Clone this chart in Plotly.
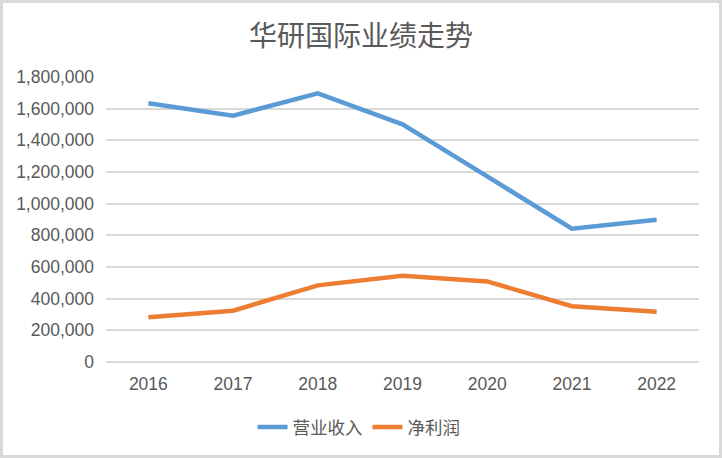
import plotly.graph_objects as go

years = ["2016", "2017", "2018", "2019", "2020", "2021", "2022"]
revenue = [1634000, 1556000, 1697000, 1501000, 1172000, 842000, 899000]
net_profit = [282000, 324000, 484000, 545000, 509000, 352000, 318000]
y_ticks = [0, 200000, 400000, 600000, 800000, 1000000, 1200000, 1400000, 1600000, 1800000]
y_tick_text = ["0", "200,000", "400,000", "600,000", "800,000", "1,000,000",
               "1,200,000", "1,400,000", "1,600,000", "1,800,000"]

W, H = 722, 458
L, R, T, B = 106, 23, 77, 96
pw, ph = W - L - R, H - T - B

fig = go.Figure()
fig.add_trace(go.Scatter(x=years, y=revenue, mode="lines", name="营业收入",
                         line=dict(color="#5B9BD5", width=4.5)))
fig.add_trace(go.Scatter(x=years, y=net_profit, mode="lines", name="净利润",
                         line=dict(color="#ED7D31", width=4.5)))

font_fam = "Liberation Sans, Arial, Noto Sans CJK SC, sans-serif"
cjk_fam = "Noto Sans CJK SC, sans-serif"

fig.update_layout(
    width=W, height=H,
    margin=dict(l=L, r=R, t=T, b=B),
    paper_bgcolor="white", plot_bgcolor="white",
    title=dict(text="华研国际业绩走势", x=0.5, xanchor="center", y=1 - 36 / H, yanchor="middle",
               font=dict(family=cjk_fam, size=28, color="#595959")),
    xaxis=dict(type="category", showgrid=False, showline=False, ticks="",
               range=[-0.5, 6.5], ticklabelstandoff=9,
               tickfont=dict(family=font_fam, size=17.5, color="#595959")),
    yaxis=dict(range=[0, 1800000], tickvals=y_ticks, ticktext=y_tick_text,
               showgrid=True, gridcolor="#d9d9d9", gridwidth=1.5,
               zeroline=True, zerolinecolor="#d9d9d9", zerolinewidth=1.5,
               showline=False, ticks="", ticklabelstandoff=11,
               tickfont=dict(family=font_fam, size=17.5, color="#595959")),
    legend=dict(orientation="h", x=(359 - L) / pw, xanchor="center",
                y=(H - B - 427) / ph, yanchor="middle",
                font=dict(family=cjk_fam, size=17.5, color="#595959"),
                itemwidth=30, tracegroupgap=0),
    hovermode=False,
    showlegend=True,
)

fig.add_shape(type="rect", xref="paper", yref="paper",
              x0=(1.5 - L) / pw, x1=(W - 1.5 - L) / pw,
              y0=(H - B - (H - 1.5)) / ph, y1=(H - B - 1.5) / ph,
              line=dict(color="#d9d9d9", width=3), fillcolor="rgba(0,0,0,0)", layer="below")

fig.write_html("out.html", config={"displayModeBar": False},
               post_script="document.body.style.margin='0';document.body.style.overflow='hidden';")
